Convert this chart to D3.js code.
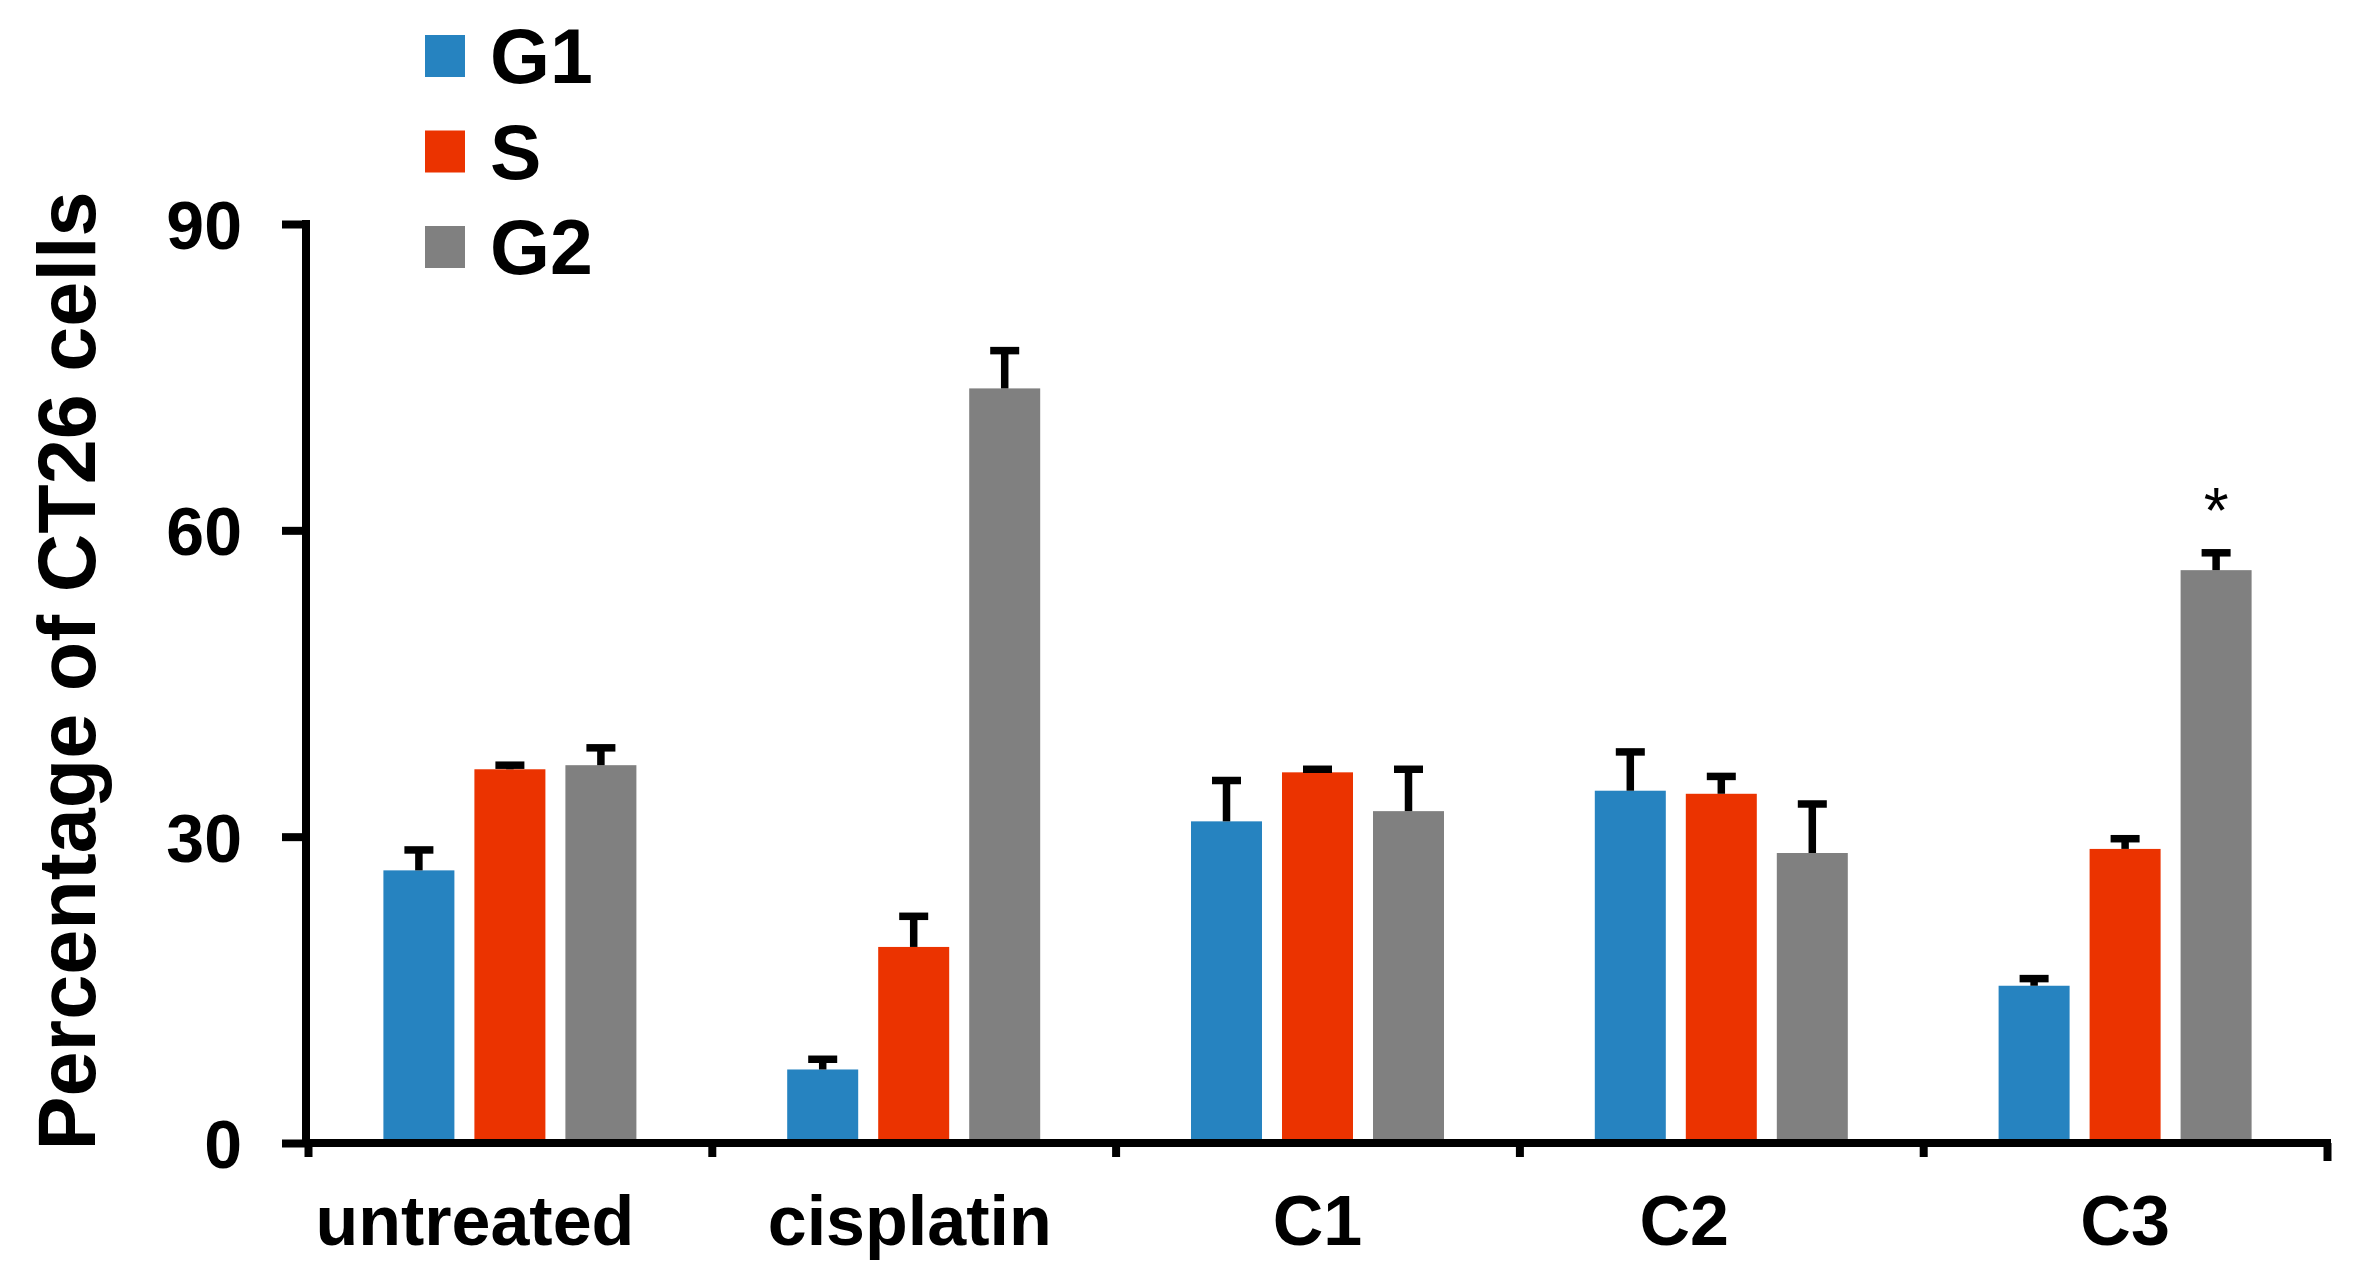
<!DOCTYPE html>
<html>
<head>
<meta charset="utf-8">
<script src="https://cdn.jsdelivr.net/npm/d3@7"></script>
<style>
  html, body { margin: 0; padding: 0; background: #fff; }
  svg { display: block; }
  text { font-family: "Liberation Sans", Arial, Helvetica, sans-serif; }
</style>
</head>
<body>
<script>
// ---- data ----
const categories = ["untreated", "cisplatin", "C1", "C2", "C3"];
const seriesNames = ["G1", "S", "G2"];
const G1 = [26.7, 7.2, 31.5, 34.5, 15.4];
const G1err = [2.0, 1.0, 4.0, 3.8, 0.7];
const S = [36.6, 19.2, 36.3, 34.2, 28.8];
const Serr = [0.4, 3.0, 0.3, 1.7, 1.0];
const G2 = [37.0, 73.9, 32.5, 28.4, 56.1];
const G2err = [1.7, 3.7, 4.1, 4.8, 1.7];
const yTicks = [0, 30, 60, 90];
const yTitle = "Percentage of CT26 cells";
const significance = [{ category: "C3", series: "G2", mark: "*" }];

// ---- layout / style ----
const W = 2360, H = 1284;
const colors = { G1: "#2683C0", S: "#EB3300", G2: "#808080" };
const values = { G1: G1, S: S, G2: G2 };
const errs = { G1: G1err, S: Serr, G2: G2err };
const labelNudge = { untreated: -35, cisplatin: -4, C1: 0, C2: -37, C3: 0 };

const svg = d3.select("body").append("svg").attr("width", W).attr("height", H);
svg.append("rect").attr("width", W).attr("height", H).attr("fill", "#fff");

const xLeft = 308, xRight = 2327, yBottom = 1143, yTop = 224;
const y = d3.scaleLinear().domain([0, 90]).range([yBottom, yTop]);
const x0 = d3.scaleBand().domain(categories).range([xLeft, xRight]).padding(0);
const groupW = 253;
const x1 = d3.scaleBand().domain(seriesNames)
  .range([(x0.bandwidth() - groupW) / 2, (x0.bandwidth() + groupW) / 2])
  .paddingInner(20 / 91).paddingOuter(0);

// rows
const rows = [];
categories.forEach((c, i) => {
  seriesNames.forEach(s => rows.push({ cat: c, ser: s, v: values[s][i], e: errs[s][i] }));
});

// bars
svg.append("g").selectAll("rect").data(rows).join("rect")
  .attr("x", d => x0(d.cat) + x1(d.ser))
  .attr("y", d => y(d.v))
  .attr("width", x1.bandwidth())
  .attr("height", d => y(0) - y(d.v))
  .attr("fill", d => colors[d.ser]);

// error bars
const eb = svg.append("g").attr("stroke", "#000").attr("stroke-width", 7.5);
eb.selectAll("line.stem").data(rows).join("line").attr("class", "stem")
  .attr("x1", d => x0(d.cat) + x1(d.ser) + x1.bandwidth() / 2)
  .attr("x2", d => x0(d.cat) + x1(d.ser) + x1.bandwidth() / 2)
  .attr("y1", d => y(d.v))
  .attr("y2", d => y(d.v + d.e));
eb.selectAll("line.cap").data(rows).join("line").attr("class", "cap")
  .attr("x1", d => x0(d.cat) + x1(d.ser) + x1.bandwidth() / 2 - 14.5)
  .attr("x2", d => x0(d.cat) + x1(d.ser) + x1.bandwidth() / 2 + 14.5)
  .attr("y1", d => y(d.v + d.e))
  .attr("y2", d => y(d.v + d.e));

// significance marks
svg.append("g").selectAll("text").data(significance).join("text")
  .attr("x", d => x0(d.category) + x1(d.series) + x1.bandwidth() / 2)
  .attr("y", d => {
    const i = categories.indexOf(d.category);
    return y(values[d.series][i] + errs[d.series][i]) - 20;
  })
  .attr("text-anchor", "middle")
  .attr("font-size", 64)
  .attr("fill", "#000")
  .text(d => d.mark);

// y axis
const yAxis = d3.axisLeft(y).tickValues(yTicks).tickSize(24).tickSizeOuter(0).tickPadding(40);
const gy = svg.append("g").attr("transform", `translate(${xLeft - 2},0)`).call(yAxis);
gy.select(".domain").attr("stroke", "#000").attr("stroke-width", 8)
  .attr("d", `M0,${yTop - 4}V${yBottom + 4}`);
gy.selectAll(".tick line").attr("stroke", "#000").attr("stroke-width", 8);
gy.selectAll(".tick text").attr("font-size", 68).attr("font-weight", "bold")
  .attr("fill", "#000").attr("font-family", "'Liberation Sans', Arial, sans-serif")
  .attr("dy", "0.36em");

// x axis (boundary ticks)
const xb = d3.scaleLinear().domain([0, categories.length]).range([xLeft, xRight]);
const xAxis = d3.axisBottom(xb).ticks(categories.length).tickSize(14).tickSizeOuter(0).tickFormat("");
const gx = svg.append("g").attr("transform", `translate(0,${yBottom})`).call(xAxis);
gx.select(".domain").attr("stroke", "#000").attr("stroke-width", 8)
  .attr("d", `M${xLeft - 6},0H${xRight + 4}`);
gx.selectAll(".tick line").attr("stroke", "#000").attr("stroke-width", 8);
gx.selectAll(".tick").filter(d => d === categories.length).select("line").attr("y2", 18);

// category labels
svg.append("g").selectAll("text").data(categories).join("text")
  .attr("x", d => x0(d) + x0.bandwidth() / 2 + labelNudge[d])
  .attr("y", 1245)
  .attr("text-anchor", "middle")
  .attr("font-size", 70)
  .attr("font-weight", "bold")
  .attr("fill", "#000")
  .text(d => d);

// y title
svg.append("text")
  .attr("transform", `translate(95,${(192 + 1150) / 2}) rotate(-90)`)
  .attr("text-anchor", "middle")
  .attr("font-size", 81)
  .attr("font-weight", "bold")
  .attr("fill", "#000")
  .text(yTitle);

// legend
const legendY = d3.scalePoint().domain(seriesNames).range([56, 247]);
const lg = svg.append("g").selectAll("g").data(seriesNames).join("g")
  .attr("transform", d => `translate(0,${legendY(d)})`);
lg.append("rect").attr("x", 425).attr("y", -21).attr("width", 40).attr("height", 42)
  .attr("fill", d => colors[d]);
lg.append("text").attr("x", 490).attr("y", 27)
  .attr("font-size", 77).attr("font-weight", "bold").attr("fill", "#000")
  .text(d => d);
</script>
</body>
</html>
